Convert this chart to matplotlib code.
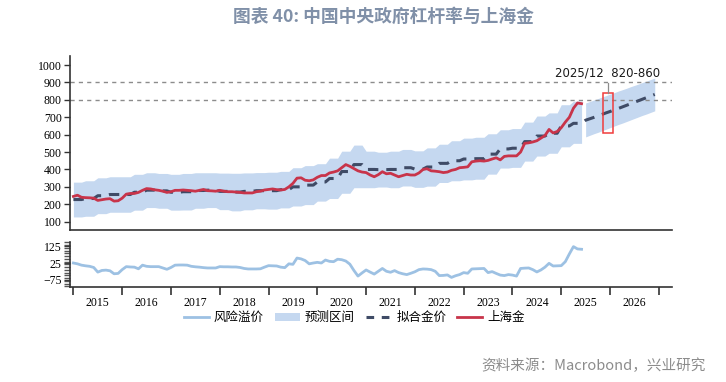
import numpy as np
import matplotlib
matplotlib.use("Agg")
import matplotlib.pyplot as plt
from matplotlib.patches import Rectangle, Patch
from matplotlib.lines import Line2D
from matplotlib.ticker import MultipleLocator

plt.rcParams['font.family'] = ['Liberation Serif', 'Noto Sans CJK SC', 'DejaVu Sans']

# ---------------- data ----------------
# Shanghai gold, monthly 2015-01 .. 2025-06 (CNY/g)
gold = [245, 252, 240, 238, 237, 235, 222, 226, 230, 232, 218, 220,
        235, 258, 262, 262, 268, 280, 290, 288, 283, 280, 275, 268,
        272, 280, 280, 282, 280, 278, 275, 280, 285, 278, 277, 275,
        280, 275, 272, 272, 270, 268, 265, 265, 265, 272, 275, 282,
        285, 288, 284, 282, 285, 300, 320, 350, 352, 338, 335, 340,
        355, 365, 365, 380, 385, 392, 410, 428, 418, 405, 392, 385,
        382, 368, 358, 370, 387, 375, 378, 368, 358, 365, 372, 368,
        368, 380, 400, 404, 392, 390, 387, 382, 385, 395, 400, 410,
        412, 415, 444, 448, 450, 448, 452, 460, 467, 455, 475, 478,
        478, 478, 500, 550, 553, 558, 565, 580, 595, 630, 610, 618,
        640, 672, 700, 752, 782, 778]

# risk premium, monthly 2015-01 .. 2025-06
premium = [25, 20, 12, 8, 5, -2, -30, -20, -18, -22, -40, -38,
           -15, 3, 1, 0, -10, 12, 5, 3, 3, 3, -5, -13,
           -2, 12, 13, 13, 12, 5, 2, 0, -3, -5, -5, -5,
           3, 2, 2, 1, 1, -2, -8, -11, -11, -11, -10, 0,
           9, 8, 7, 0, -3, 20, 17, 55, 50, 40, 20, 25,
           29, 25, 43, 35, 33, 48, 45, 37, 18, -20, -54, -35,
           -17, -30, -42, -25, -8, -25, -31, -21, -33, -40, -45, -37,
           -28, -15, -11, -12, -15, -25, -51, -50, -47, -62, -52, -45,
           -33, -37, -11, -10, -9, -8, -33, -27, -38, -48, -51, -45,
           -48, -54, -8, -6, -5, -15, -29, -17, 0, 23, 7, 8,
           9, 33, 80, 124, 110, 108]

# fitted gold price and band, quarterly 2015Q1 .. 2025Q2
fit_q = [227, 233, 249, 256, 256, 269, 281, 277, 269, 272, 279, 281,
         274, 270, 274, 278, 278, 284, 300, 310, 328, 348, 388, 428,
         400, 399, 400, 410, 402, 414, 435, 450, 460, 462, 488, 518,
         522, 560, 592, 608, 650, 665]
upper_q = [327, 335, 352, 358, 358, 372, 381, 377, 372, 377, 381, 381,
           379, 378, 380, 382, 384, 389, 410, 422, 433, 465, 505, 540,
           505, 499, 505, 515, 507, 524, 545, 565, 580, 585, 605, 628,
           635, 672, 707, 725, 772, 792]
lower_q = [127, 131, 146, 154, 154, 166, 181, 177, 166, 167, 177, 181,
           169, 162, 168, 174, 172, 179, 190, 198, 218, 233, 263, 295,
           295, 299, 295, 305, 297, 304, 325, 335, 340, 344, 373, 408,
           412, 448, 477, 493, 530, 550]

# forecast, monthly 2025-07 .. 2026-12
fc_fit = [683, 691, 699, 708, 716, 725, 733, 742, 750, 759, 768, 777,
          786, 795, 804, 813, 822, 831]
fc_upper = [782, 790, 799, 807, 816, 824, 833, 841, 850, 858, 866, 875,
            883, 891, 900, 908, 917, 925]
fc_lower = [587, 596, 605, 613, 622, 631, 640, 649, 658, 666, 675, 684,
            693, 702, 711, 719, 728, 737]

years = [2015, 2016, 2017, 2018, 2019, 2020, 2021, 2022, 2023, 2024, 2025, 2026]
box_label = "2025/12  820-860"

# ---------------- derived positions ----------------
n_hist = len(gold)
t_hist = 2015 + np.arange(n_hist) / 12.0
t_fc = 2015 + (n_hist + np.arange(len(fc_fit))) / 12.0
fit_m = np.repeat(fit_q, 3)[:n_hist]
up_m = np.repeat(upper_q, 3)[:n_hist]
lo_m = np.repeat(lower_q, 3)[:n_hist]
fit_all = np.concatenate([fit_m, fc_fit])
t_all = np.concatenate([t_hist, t_fc])

C_BAND = '#c5d8f0'
C_FIT = '#3f4b66'
C_GOLD = '#c8344a'
C_PREM = '#9dc1e3'

fig = plt.figure(figsize=(7.26, 3.82), dpi=100)
ax = fig.add_axes([0.0964, 0.3979, 0.8292, 0.4555])
ax2 = fig.add_axes([0.0964, 0.2487, 0.8292, 0.1178])

xlim = (2014.93, 2027.27)

ax.fill_between(t_hist, lo_m, up_m, color=C_BAND, lw=0, zorder=1)
ax.fill_between(t_fc, fc_lower, fc_upper, color=C_BAND, lw=0, zorder=1)
ax.plot(t_all, fit_all, color=C_FIT, lw=2.2, ls=(0, (3.4, 2.6)), zorder=3)
ax.plot(t_hist, gold, color=C_GOLD, lw=2.0, zorder=4)
for v in (800, 900):
    ax.axhline(v, color='#8c8c8c', lw=1.0, ls=(0, (3, 3)), zorder=2)

rx0, rx1 = 2025.86, 2026.07
ax.add_patch(Rectangle((rx0, 610), rx1 - rx0, 230, fill=False,
                       edgecolor='#f03c3c', lw=1.1, zorder=5))
ax.plot([(rx0 + rx1) / 2] * 2, [840, 898], color='#8c8c8c', lw=0.9, zorder=5)
ax.text((rx0 + rx1) / 2 - 0.02, 918, box_label, ha='center', va='bottom',
        fontsize=8.5, family=['DejaVu Sans'], color='#1a1a1a')

ax.set_xlim(*xlim)
ax.set_ylim(52, 1052)
ax.set_yticks(range(100, 1001, 100))
ax.set_xticks([])
for s in ('top', 'right'):
    ax.spines[s].set_visible(False)
for s in ('left', 'bottom'):
    ax.spines[s].set_color('#333333')
    ax.spines[s].set_linewidth(1.2)
ax.tick_params(axis='y', direction='out', length=4, width=1, labelsize=8.5,
               color='#333333', pad=2)

# bottom panel
ax2.plot(t_hist, premium, color=C_PREM, lw=2.0)
ax2.set_xlim(*xlim)
ax2.set_ylim(-120, 152)
ax2.set_yticks([-75, 25, 125])
ax2.yaxis.set_minor_locator(MultipleLocator(16.67))
ax2.set_xticks(years + [2027])
ax2.set_xticklabels([])
ax2.set_xticks([y + 0.5 for y in years], minor=True)
ax2.set_xticklabels([str(y) for y in years], minor=True)
ax2.tick_params(axis='x', which='minor', length=0, labelsize=8.5, pad=7)
ax2.tick_params(axis='x', which='major', length=6, width=1.2, color='#333333')
ax2.tick_params(axis='y', which='major', length=4, width=1, labelsize=8.5,
                color='#333333', pad=2)
ax2.tick_params(axis='y', which='minor', length=4, width=1, color='#555555')
for s in ('top', 'right'):
    ax2.spines[s].set_visible(False)
for s in ('left', 'bottom'):
    ax2.spines[s].set_color('#333333')
    ax2.spines[s].set_linewidth(1.2)

# legend
handles = [Line2D([], [], color=C_PREM, lw=2.0),
           Patch(facecolor=C_BAND, edgecolor='none'),
           Line2D([], [], color=C_FIT, lw=2.2, ls=(0, (2.5, 2.5))),
           Line2D([], [], color=C_GOLD, lw=2.0)]
labels = ['风险溢价', '预测区间', '拟合金价', '上海金']
fig.legend(handles, labels, loc='center', bbox_to_anchor=(0.488, 0.168), ncol=4,
           frameon=False, prop={'family': ['Noto Sans CJK SC'], 'size': 9},
           handlelength=2.0, handletextpad=0.4, columnspacing=0.9)

fig.text(0.528, 0.955, '图表 40: 中国中央政府杠杆率与上海金', ha='center', va='center',
         fontsize=12.8, fontweight='bold', color='#8090a8',
         family=['Noto Sans CJK SC', 'DejaVu Sans'])
fig.text(0.972, 0.043, '资料来源：Macrobond，兴业研究', ha='right', va='center',
         fontsize=10.5, color='#8c8c8c', family=['Noto Sans CJK SC', 'DejaVu Sans'])

fig.savefig('out.png', dpi=100)
